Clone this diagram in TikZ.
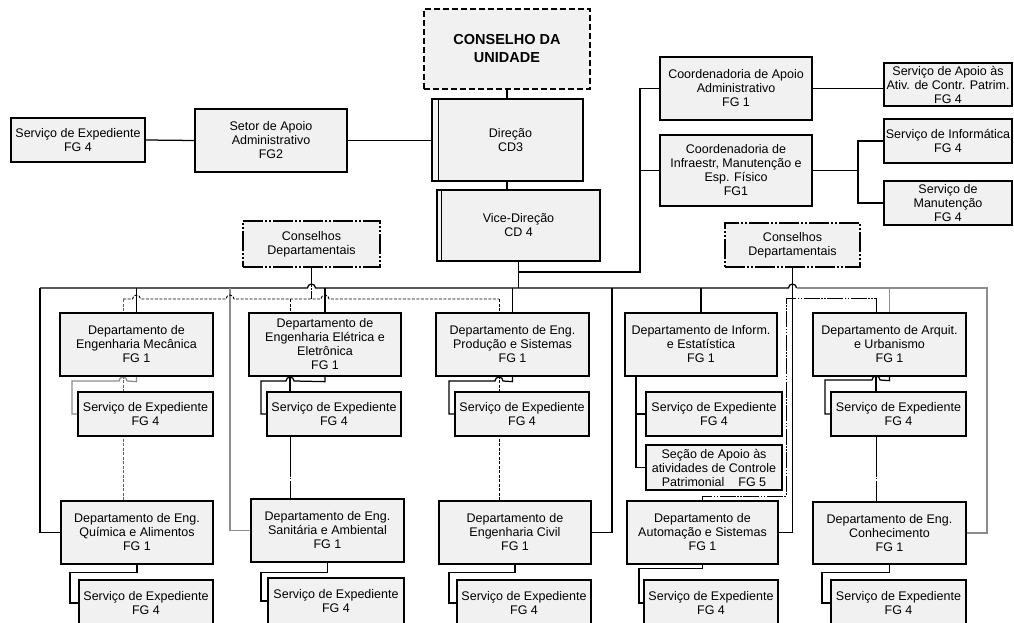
\documentclass[tikz,border=0pt]{standalone}
\usepackage{fontspec}
\setmainfont{Liberation Sans}
\usetikzlibrary{calc}
\pgfdeclarelayer{background}
\pgfsetlayers{background,main}
\definecolor{boxfill}{HTML}{F1F1F1}
\definecolor{lgray}{HTML}{8C8C8C}
\newcommand{\nf}{\fontsize{12.5}{14}\selectfont}
\begin{document}
\begin{tikzpicture}[x=1pt,y=-1pt,
  bx/.style={draw, fill=boxfill, line width=1.3pt, align=center, inner sep=0pt, font=\nf},
  sz/.style 2 args={minimum width=#1pt, minimum height=#2pt},
  ln/.style={line width=1.25pt, black},
  gln/.style={line width=1.25pt, lgray},
  dsh/.style={line width=0.9pt, dash pattern=on 3pt off 1.5pt},
  gdsh/.style={line width=0.9pt, lgray!70!black, dash pattern=on 3pt off 1.5pt},
  dd/.style={line width=1pt, dash pattern=on 16pt off 1.5pt on 1.5pt off 1.5pt on 1.5pt off 1.5pt},
  dd2/.style={line width=1pt, dash pattern=on 40pt off 1.5pt on 1pt off 1.5pt},
  cbord/.style={dash pattern=on 20pt off 2pt on 2pt off 2pt on 2pt off 2pt},
]
\useasboundingbox (0,0) rectangle (1014,623);

% ---- top part
\node[bx, sz={134}{44}] (sexp0) at (78,140) {Serviço de Expediente\\FG 4};
\node[bx, sz={152}{63}] (setor) at (271,140.5) {Setor de Apoio\\Administrativo\\FG2};
\node[bx, sz={166}{80}, dashed, dash pattern=on 6pt off 3pt, font=\fontsize{14.5}{18}\selectfont\bfseries] (cons) at (507,49) {CONSELHO DA\\UNIDADE};
\node[bx, sz={151}{82}] (dir) at (507.5,140) {\hspace{6pt}Direção\\\hspace{6pt}CD3};
\node[bx, sz={163}{71}] (vice) at (518.5,225.5) {Vice-Direção\\CD 4};
\draw[line width=1.3pt] ([xshift=7pt]dir.north west) -- ([xshift=7pt]dir.south west);
\draw[line width=1.3pt] ([xshift=5pt]vice.north west) -- ([xshift=5pt]vice.south west);

\node[bx, sz={152}{63}] (capo) at (736,88.5) {Coordenadoria de Apoio\\Administrativo\\FG 1};
\node[bx, sz={152}{71}] (cinf) at (736,170.5) {Coordenadoria de\\Infraestr, Manutenção e\\Esp. Físico\\FG1};
\node[bx, sz={128}{43}] (sapo) at (948,84.5) {Serviço de Apoio às\\Ativ. de Contr. Patrim.\\FG 4};
\node[bx, sz={128}{44}] (sinf) at (948,141) {Serviço de Informática\\FG 4};
\node[bx, sz={128}{44}] (sman) at (948,203) {Serviço de\\Manutenção\\FG 4};

\node[bx, sz={137}{46}, cbord] (cdL) at (311.5,244) {Conselhos\\Departamentais};
\node[bx, sz={135}{44}, cbord] (cdR) at (792.5,245) {Conselhos\\Departamentais};

% ---- row 1 departments
\node[bx, sz={153}{63}] (dmec) at (136.5,344.5) {Departamento de\\Engenharia Mecânica\\FG 1};
\node[bx, sz={152}{63}] (dele) at (325,344.5) {Departamento de\\Engenharia Elétrica e\\Eletrônica\\FG 1};
\node[bx, sz={153}{63}] (dpro) at (512.5,344.5) {Departamento de Eng.\\Produção e Sistemas\\FG 1};
\node[bx, sz={152}{63}] (dinf) at (701,344.5) {Departamento de Inform.\\e Estatística\\FG 1};
\node[bx, sz={153}{63}] (darq) at (889.5,344.5) {Departamento de Arquit.\\e Urbanismo\\FG 1};

% ---- row 1 services
\node[bx, sz={135}{44}] (smec) at (145.5,414) {Serviço de Expediente\\FG 4};
\node[bx, sz={134}{44}] (sele) at (334,414) {Serviço de Expediente\\FG 4};
\node[bx, sz={134}{44}] (spro) at (522,414) {Serviço de Expediente\\FG 4};
\node[bx, sz={136}{44}] (sinfo) at (714,414) {Serviço de Expediente\\FG 4};
\node[bx, sz={136}{45}] (secao) at (714,467.5) {Seção de Apoio às\\atividades de Controle\\Patrimonial\hspace{14pt}FG 5};
\node[bx, sz={135}{44}] (sarq) at (898.5,414) {Serviço de Expediente\\FG 4};

% ---- row 2 departments
\node[bx, sz={152}{63}] (dqui) at (137,532.5) {Departamento de Eng.\\Química e Alimentos\\FG 1};
\node[bx, sz={153}{63}] (dsan) at (327.5,530.5) {Departamento de Eng.\\Sanitária e Ambiental\\FG 1};
\node[bx, sz={152}{63}] (dciv) at (515,532.5) {Departamento de\\Engenharia Civil\\FG 1};
\node[bx, sz={151}{63}] (daut) at (702.5,532.5) {Departamento de\\Automação e Sistemas\\FG 1};
\node[bx, sz={153}{62}] (dcon) at (889.5,533) {Departamento de Eng.\\Conhecimento\\FG 1};

% ---- row 2 services
\node[bx, sz={134}{46}] (squi) at (146,603) {Serviço de Expediente\\FG 4};
\node[bx, sz={136}{46}] (ssan) at (336,601) {Serviço de Expediente\\FG 4};
\node[bx, sz={134}{46}] (sciv) at (524,603) {Serviço de Expediente\\FG 4};
\node[bx, sz={134}{46}] (saut) at (711,603) {Serviço de Expediente\\FG 4};
\node[bx, sz={135}{46}] (scon) at (898.5,603) {Serviço de Expediente\\FG 4};

\begin{pgfonlayer}{background}
% top connectors
\draw[ln] (sexp0.east) -- (setor.west);
\draw[ln] (setor.east) -- (setor.east -| dir.west);
\draw[ln] (cons.south) -- (cons.south |- dir.north);
\draw[ln] (cons.south |- dir.south) -- (cons.south |- vice.north);
\coordinate (vj) at (518.5,288);
\coordinate (cj) at (640,272);
\draw[ln] (vice.south) -- (vj);
\draw[ln] (capo.west) -| (cj) -| (vice.south);
\draw[ln] (cinf.west) -- (cinf.west -| cj);
\draw[ln] (capo.east) -- (capo.east -| sapo.west);
\coordinate (cr) at (858,170.5);
\draw[ln] (cinf.east) -- (cr);
\draw[ln] (sinf.west) -| (cr) |- (sman.west);

% main bus
\coordinate (busL) at (40,288);
\coordinate (busR) at (987,288);
\draw[ln] (busL) -- (307.5,288) arc(180:360:4) -- (788.5,288) arc(180:360:4);
\draw[gln] (796.5,288) -- (busR) |- (dcon.east);
\draw[ln] (busL) |- (dqui.west);
\foreach \n in {dmec,dele,dpro,dinf} \draw[ln] (\n.north) -- (\n.north |- busL);
\draw[gln] (darq.north) -- (darq.north |- busR);
\coordinate (sanj) at (230,288);
\draw[gln] (sanj) |- (dsan.west);
\coordinate (civj) at (612,288);
\draw[ln] (civj) |- (dciv.east);
\draw[ln] (cdR.south) |- (daut.east);

% left councils (dashed)
\coordinate (dl) at (311.5,299);
\coordinate (qa) at (123,299);
\coordinate (ea) at (290,299);
\coordinate (pa) at (499,299);
\draw[dd] (cdL.south) -- (dl);
\draw[dsh] (qa) -- (132.5,299) arc(180:360:4) -- (226,299) arc(180:360:4) -- (321,299) arc(180:360:4) -- (pa);
\draw[gdsh] (qa) -- (qa |- dqui.north);
\draw[dsh] (ea) -- (ea |- dele.north);
\draw[ln] (ea |- dele.south) -- (ea |- sele.north);
\draw[dd2] (ea |- sele.south) -- (ea |- dsan.north);
\draw[dsh] (pa) -- (pa |- dciv.north);

% right councils (dash-dot)
\coordinate (ra) at (876,298);
\coordinate (rb) at (786,298);
\coordinate (rc) at (786,496);
\draw[dd] (ra |- darq.north) -- (ra) -- (rb) -- (rc) -| (daut.north);
\draw[ln] (ra |- darq.south) -- (ra |- sarq.north);
\draw[dd2] (ra |- sarq.south) -- (ra |- dcon.north);

% row 1 brackets
\draw[gln] (dmec.south) -- ++(0,5) -- (127,381) arc(360:180:4) -- (72,381) |- (smec.west);
\draw[ln] (dele.south) -- ++(0,5) -- (294,381) arc(360:180:4) -- (261,381) |- (sele.west);
\draw[ln] (dpro.south) -- ++(0,5) -- (503,381) arc(360:180:4) -- (449,381) |- (spro.west);
\draw[ln] (darq.south) -- ++(0,4) -- (880,380) arc(360:180:4) -- (825,380) |- (sarq.west);
\coordinate (ij) at (636,376);
\draw[ln] (ij) |- (secao.west);
\draw[ln] (ij |- sinfo.west) -- (sinfo.west);

% row 2 brackets
\draw[ln] (dqui.south) -- ++(0,8) -- ++(-67,0) |- (squi.west);
\draw[ln] (dsan.south) -- ++(0,10) -- ++(-66.5,0) |- (ssan.west);
\draw[ln] (dciv.south) -- ++(0,8) -- ++(-66,0) |- (sciv.west);
\draw[ln] (daut.south) -- ++(0,4) -- ++(-63.5,0) |- (saut.west);
\draw[ln] (dcon.south) -- ++(0,8) -- ++(-67.5,0) |- (scon.west);
\end{pgfonlayer}
\end{tikzpicture}
\end{document}
